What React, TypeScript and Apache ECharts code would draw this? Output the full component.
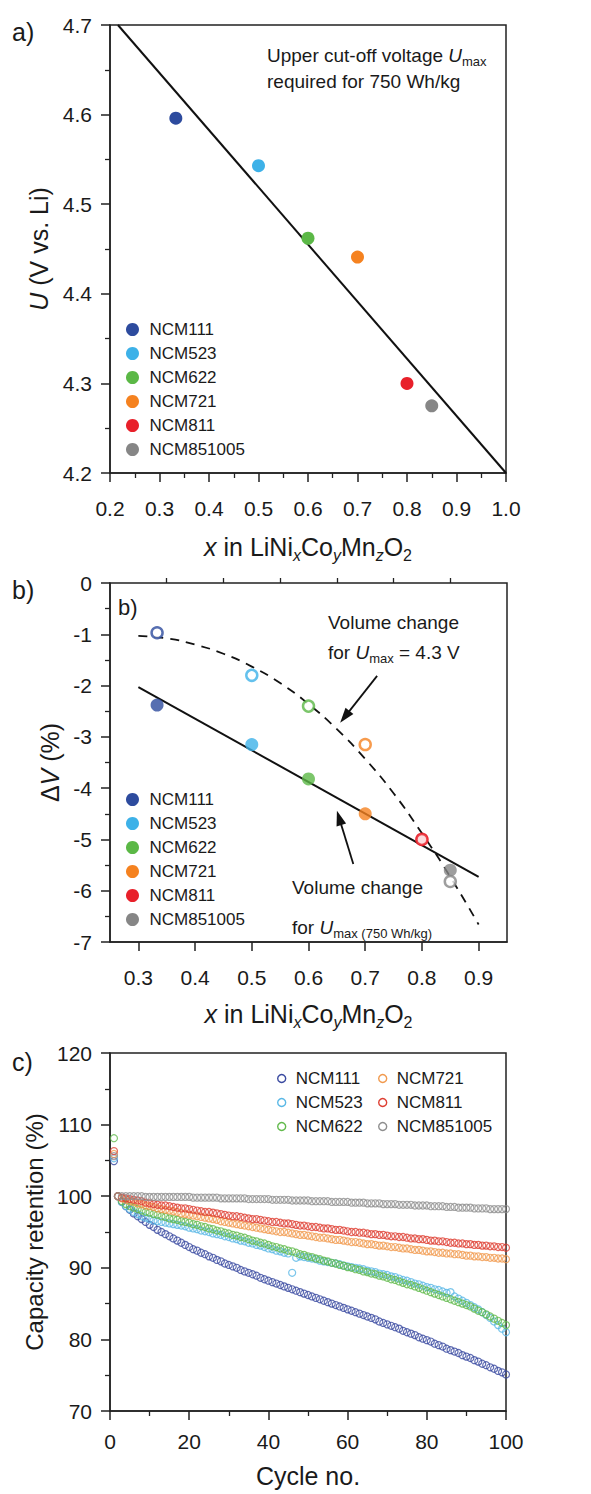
import React, { useEffect, useRef } from 'react';
import * as echarts from 'echarts';

const FONT = '"Liberation Sans", Arial, Helvetica, sans-serif';
const INK = '#1a1a1a';

// ---------- shared ----------
const NAMES = ['NCM111', 'NCM523', 'NCM622', 'NCM721', 'NCM811', 'NCM851005'];
const COLORS = ['#2D4B9E', '#3DB1E8', '#5BB846', '#F58220', '#E8202A', '#868686'];
const C_COLORS = ['#3A4AA0', '#5AB8E6', '#62BA4C', '#F19A4E', '#DE3E32', '#8E8E8E'];

// ---------- panel a ----------
const A_X = [0.333, 0.5, 0.6, 0.7, 0.8, 0.85];
const A_U = [4.596, 4.543, 4.462, 4.441, 4.3, 4.275];
const A_FIT_X = [0.216, 1.0];
const A_FIT_U = [4.7, 4.2];
const A_X_TICKS = [0.2, 0.3, 0.4, 0.5, 0.6, 0.7, 0.8, 0.9, 1.0];
const A_Y_TICKS = [4.2, 4.3, 4.4, 4.5, 4.6, 4.7];

// ---------- panel b ----------
const B_X = [0.333, 0.5, 0.6, 0.7, 0.8, 0.85];
const B_DV_750 = [-2.38, -3.15, -3.82, -4.5, -5.0, -5.6];
const B_DV_43 = [-0.97, -1.8, -2.4, -3.15, -5.0, -5.82];
const B_FIT_X = [0.3, 0.9];
const B_FIT_DV = [-2.03, -5.73];
const B_CURVE_X = [0.3, 0.35, 0.4, 0.45, 0.5, 0.55, 0.6, 0.65, 0.7, 0.75, 0.8, 0.85, 0.9];
const B_CURVE_DV = [-1.03, -1.08, -1.2, -1.38, -1.63, -1.95, -2.36, -2.85, -3.43, -4.1, -4.88, -5.73, -6.66];
const B_X_MAJOR = [0.3, 0.4, 0.5, 0.6, 0.7, 0.8, 0.9];
const B_X_MINOR = [0.35, 0.45, 0.55, 0.65, 0.75, 0.85];
const B_ARROW_43 = [[0.721, -1.81], [0.664, -2.61]];
const B_ARROW_750 = [[0.679, -5.48], [0.654, -4.58]];

// ---------- panel c ----------
const CYCLES = [
  1, 2, 3, 4, 5, 6, 7, 8, 9, 10, 11, 12, 13, 14, 15, 16, 17, 18, 19, 20,
  21, 22, 23, 24, 25, 26, 27, 28, 29, 30, 31, 32, 33, 34, 35, 36, 37, 38, 39, 40,
  41, 42, 43, 44, 45, 46, 47, 48, 49, 50, 51, 52, 53, 54, 55, 56, 57, 58, 59, 60,
  61, 62, 63, 64, 65, 66, 67, 68, 69, 70, 71, 72, 73, 74, 75, 76, 77, 78, 79, 80,
  81, 82, 83, 84, 85, 86, 87, 88, 89, 90, 91, 92, 93, 94, 95, 96, 97, 98, 99, 100,
];
const C_NCM111 = [
  104.9, 100.0, 99.2, 98.6, 98.1, 97.6, 97.2, 96.8, 96.4, 96.0,
  95.7, 95.3, 95.0, 94.7, 94.4, 94.1, 93.8, 93.5, 93.2, 92.9,
  92.6, 92.4, 92.1, 91.9, 91.6, 91.4, 91.1, 90.9, 90.6, 90.4,
  90.2, 90.0, 89.7, 89.5, 89.3, 89.1, 88.9, 88.6, 88.4, 88.2,
  88.0, 87.8, 87.6, 87.4, 87.2, 87.0, 86.8, 86.6, 86.4, 86.2,
  86.0, 85.8, 85.6, 85.4, 85.2, 85.0, 84.8, 84.6, 84.4, 84.2,
  84.0, 83.8, 83.6, 83.4, 83.2, 83.0, 82.8, 82.5, 82.3, 82.1,
  81.9, 81.7, 81.5, 81.2, 81.0, 80.8, 80.6, 80.3, 80.1, 79.9,
  79.7, 79.4, 79.2, 79.0, 78.7, 78.5, 78.3, 78.1, 77.8, 77.6,
  77.4, 77.1, 76.9, 76.6, 76.4, 76.1, 75.9, 75.6, 75.4, 75.1,
];
const C_NCM523 = [
  105.3, 100.0, 99.2, 98.6, 98.2, 97.8, 97.5, 97.2, 97.0, 96.8,
  96.6, 96.5, 96.4, 96.3, 96.2, 96.1, 96.0, 95.9, 95.8, 95.6,
  95.5, 95.4, 95.2, 95.1, 95.0, 94.8, 94.7, 94.6, 94.4, 94.3,
  94.1, 94.0, 93.8, 93.7, 93.5, 93.4, 93.2, 93.1, 92.9, 92.7,
  92.6, 92.4, 92.3, 92.1, 92.0, 89.3, 91.4, 91.6, 91.5, 91.4,
  91.3, 91.2, 91.0, 90.9, 90.8, 90.7, 90.6, 90.5, 90.3, 90.2,
  90.1, 90.0, 89.9, 89.8, 89.6, 89.5, 89.4, 89.2, 89.1, 89.0,
  88.8, 88.7, 88.5, 88.3, 88.2, 88.0, 87.8, 87.7, 87.5, 87.3,
  87.2, 87.0, 86.9, 86.7, 86.5, 86.6, 86.0, 85.7, 85.4, 85.1,
  84.8, 84.5, 84.2, 83.8, 83.4, 83.0, 82.5, 82.0, 81.5, 81.0,
];
const C_NCM622 = [
  108.1, 100.0, 99.3, 98.9, 98.6, 98.4, 98.2, 98.0, 97.8, 97.7,
  97.5, 97.4, 97.2, 97.1, 96.9, 96.8, 96.7, 96.5, 96.4, 96.3,
  96.1, 96.0, 95.8, 95.7, 95.5, 95.4, 95.2, 95.1, 94.9, 94.8,
  94.6, 94.5, 94.3, 94.2, 94.0, 93.8, 93.7, 93.5, 93.4, 93.2,
  93.0, 92.9, 92.7, 92.6, 92.4, 92.3, 92.1, 91.9, 91.8, 91.6,
  91.5, 91.3, 91.2, 91.0, 90.9, 90.7, 90.6, 90.4, 90.3, 90.1,
  90.0, 89.8, 89.7, 89.5, 89.4, 89.2, 89.1, 88.9, 88.8, 88.6,
  88.4, 88.3, 88.1, 87.9, 87.7, 87.6, 87.4, 87.2, 87.0, 86.8,
  86.6, 86.4, 86.2, 86.0, 85.8, 85.6, 85.4, 85.2, 85.0, 84.8,
  84.6, 84.3, 84.0, 83.8, 83.5, 83.2, 82.9, 82.6, 82.3, 82.0,
];
const C_NCM721 = [
  105.9, 100.0, 99.7, 99.5, 99.3, 99.2, 99.0, 98.9, 98.7, 98.6,
  98.5, 98.3, 98.2, 98.1, 98.0, 97.9, 97.8, 97.6, 97.5, 97.4,
  97.3, 97.2, 97.1, 97.0, 96.9, 96.8, 96.7, 96.5, 96.4, 96.3,
  96.2, 96.1, 96.0, 95.9, 95.8, 95.7, 95.6, 95.5, 95.4, 95.3,
  95.2, 95.1, 95.0, 95.0, 94.9, 94.8, 94.7, 94.6, 94.6, 94.5,
  94.4, 94.3, 94.2, 94.2, 94.1, 94.0, 93.9, 93.9, 93.8, 93.7,
  93.6, 93.6, 93.5, 93.4, 93.3, 93.3, 93.2, 93.1, 93.1, 93.0,
  92.9, 92.9, 92.8, 92.7, 92.7, 92.6, 92.5, 92.5, 92.4, 92.3,
  92.3, 92.2, 92.1, 92.1, 92.0, 92.0, 91.9, 91.9, 91.8, 91.7,
  91.7, 91.6, 91.6, 91.5, 91.5, 91.4, 91.4, 91.3, 91.3, 91.2,
];
const C_NCM811 = [
  106.3, 100.0, 99.8, 99.7, 99.6, 99.5, 99.4, 99.3, 99.1, 99.0,
  98.9, 98.8, 98.7, 98.7, 98.6, 98.5, 98.4, 98.3, 98.3, 98.2,
  98.1, 98.0, 97.9, 97.8, 97.8, 97.7, 97.6, 97.5, 97.4, 97.3,
  97.2, 97.2, 97.1, 97.0, 96.9, 96.8, 96.8, 96.7, 96.6, 96.5,
  96.4, 96.4, 96.3, 96.2, 96.2, 96.1, 96.0, 95.9, 95.9, 95.8,
  95.7, 95.7, 95.6, 95.5, 95.5, 95.4, 95.3, 95.3, 95.2, 95.1,
  95.0, 95.0, 94.9, 94.9, 94.8, 94.7, 94.7, 94.6, 94.6, 94.5,
  94.4, 94.4, 94.3, 94.3, 94.2, 94.1, 94.1, 94.0, 94.0, 93.9,
  93.8, 93.8, 93.7, 93.7, 93.6, 93.5, 93.5, 93.4, 93.4, 93.3,
  93.3, 93.2, 93.2, 93.1, 93.1, 93.0, 93.0, 92.9, 92.9, 92.8,
];
const C_NCM851005 = [
  105.6, 100.0, 100.0, 100.0, 100.0, 100.0, 100.0, 100.0, 99.9, 99.9,
  99.9, 99.9, 99.9, 99.9, 99.9, 99.9, 99.9, 99.9, 99.9, 99.9,
  99.8, 99.8, 99.8, 99.8, 99.8, 99.8, 99.8, 99.7, 99.7, 99.7,
  99.7, 99.7, 99.7, 99.7, 99.6, 99.6, 99.6, 99.6, 99.6, 99.6,
  99.5, 99.5, 99.5, 99.5, 99.5, 99.4, 99.4, 99.4, 99.4, 99.4,
  99.3, 99.3, 99.3, 99.3, 99.3, 99.2, 99.2, 99.2, 99.2, 99.2,
  99.1, 99.1, 99.1, 99.1, 99.0, 99.0, 99.0, 99.0, 98.9, 98.9,
  98.9, 98.9, 98.8, 98.8, 98.8, 98.8, 98.7, 98.7, 98.7, 98.7,
  98.6, 98.6, 98.6, 98.6, 98.5, 98.5, 98.5, 98.4, 98.4, 98.4,
  98.4, 98.3, 98.3, 98.3, 98.3, 98.2, 98.2, 98.2, 98.2, 98.2,
];
const C_SERIES = [C_NCM111, C_NCM523, C_NCM622, C_NCM721, C_NCM811, C_NCM851005];
const C_X_TICKS = [0, 20, 40, 60, 80, 100];
const C_Y_TICKS = [70, 80, 90, 100, 110, 120];

// ---------- helpers ----------
const LINE = { color: '#222', width: 1.5 };
const TICK_FS = 21;

function valueAxis(gridIndex: number, extra: any) {
  return {
    type: 'value',
    gridIndex,
    axisLine: { show: true, onZero: false, lineStyle: LINE },
    axisTick: { show: true, inside: false, length: 9, lineStyle: LINE },
    minorTick: { show: true, splitNumber: 2, length: 5, lineStyle: { color: '#222', width: 1.3 } },
    splitLine: { show: false },
    minorSplitLine: { show: false },
    axisLabel: { color: INK, fontSize: TICK_FS, fontFamily: FONT, margin: 18 },
    nameTextStyle: { color: INK, fontSize: 25, fontFamily: FONT },
    ...extra,
  };
}

const richSub = (size: number, pad: number, italic: boolean) => ({
  fontSize: size,
  fontFamily: FONT,
  fontStyle: italic ? 'italic' : 'normal',
  padding: [pad, 0, 0, 0],
  color: INK,
});

const xNameRich = {
  i: { fontSize: 25, fontFamily: FONT, fontStyle: 'italic', color: INK },
  s: richSub(16, 16, true),
  n: richSub(16, 16, false),
};
const X_NAME = '{i|x} in LiNi{s|x}Co{s|y}Mn{s|z}O{n|2}';

function gText(x: number, y: number, text: string, size: number, rich?: any) {
  return {
    type: 'text',
    x,
    y,
    silent: true,
    style: {
      text,
      fill: INK,
      fontSize: size,
      fontFamily: FONT,
      textVerticalAlign: 'middle',
      textAlign: 'left',
      rich,
    },
  };
}

const annRich = {
  i: { fontSize: 19, fontFamily: FONT, fontStyle: 'italic', fill: INK },
  s: { fontSize: 13, fontFamily: FONT, fill: INK, padding: [12, 0, 0, 0] },
};

function buildOption() {
  const series: any[] = [];

  // ----- panel a -----
  series.push({
    type: 'line',
    xAxisIndex: 0,
    yAxisIndex: 0,
    data: A_FIT_X.map((x, i) => [x, A_FIT_U[i]]),
    symbol: 'none',
    lineStyle: { color: '#111', width: 2 },
    z: 2,
  });
  NAMES.forEach((n, i) => {
    series.push({
      type: 'scatter',
      name: n,
      xAxisIndex: 0,
      yAxisIndex: 0,
      data: [[A_X[i], A_U[i]]],
      symbol: 'circle',
      symbolSize: 13,
      itemStyle: { color: COLORS[i], opacity: 1 },
      z: 3,
    });
  });

  // ----- panel b -----
  series.push({
    type: 'line',
    xAxisIndex: 1,
    yAxisIndex: 1,
    data: B_FIT_X.map((x, i) => [x, B_FIT_DV[i]]),
    symbol: 'none',
    lineStyle: { color: '#111', width: 2 },
    z: 2,
    markLine: {
      silent: true,
      symbol: ['none', 'triangle'],
      symbolSize: [10, 15],
      label: { show: false },
      lineStyle: { color: '#111', width: 1.8, type: 'solid' },
      data: [
        [{ coord: B_ARROW_43[0] }, { coord: B_ARROW_43[1] }],
        [{ coord: B_ARROW_750[0] }, { coord: B_ARROW_750[1] }],
      ],
    },
  });
  series.push({
    type: 'line',
    xAxisIndex: 1,
    yAxisIndex: 1,
    data: B_CURVE_X.map((x, i) => [x, B_CURVE_DV[i]]),
    symbol: 'none',
    smooth: true,
    lineStyle: { color: '#111', width: 1.8, type: [9, 7] },
    z: 2,
  });
  NAMES.forEach((n, i) => {
    series.push({
      type: 'scatter',
      name: n,
      xAxisIndex: 1,
      yAxisIndex: 1,
      data: [[B_X[i], B_DV_750[i]]],
      symbol: 'circle',
      symbolSize: 13,
      itemStyle: { color: COLORS[i] },
      z: 3,
    });
  });
  NAMES.forEach((n, i) => {
    series.push({
      type: 'scatter',
      name: n,
      xAxisIndex: 1,
      yAxisIndex: 1,
      data: [[B_X[i], B_DV_43[i]]],
      symbol: 'circle',
      symbolSize: 11,
      itemStyle: { color: '#fff', borderColor: COLORS[i], borderWidth: 2.5 },
      z: 4,
    });
  });

  // ----- panel c -----
  NAMES.forEach((n, i) => {
    series.push({
      type: 'scatter',
      name: n,
      xAxisIndex: 3,
      yAxisIndex: 2,
      data: CYCLES.map((c, k) => [c, C_SERIES[i][k]]),
      symbol: 'circle',
      symbolSize: 7,
      itemStyle: { color: 'rgba(255,255,255,0)', borderColor: C_COLORS[i], borderWidth: 1.2 },
      z: 3,
    });
  });

  const oneDec = (v: number) => v.toFixed(1);

  const filledLegend = (top: number) => ({
    orient: 'vertical',
    left: 121,
    top,
    itemWidth: 24,
    itemHeight: 13,
    itemGap: 5,
    icon: 'circle',
    selectedMode: false,
    textStyle: { fontSize: 17, fontFamily: FONT, color: INK, lineHeight: 19 },
    data: NAMES.map((n, i) => ({ name: n, itemStyle: { color: COLORS[i], borderWidth: 0 } })),
  });
  const openLegend = (left: number, idx: number[]) => ({
    orient: 'vertical',
    left,
    top: 1064,
    itemWidth: 18,
    itemHeight: 8,
    itemGap: 5,
    icon: 'circle',
    selectedMode: false,
    textStyle: { fontSize: 17, fontFamily: FONT, color: INK, lineHeight: 19 },
    data: idx.map((i) => ({
      name: NAMES[i],
      itemStyle: { color: 'rgba(255,255,255,0)', borderColor: C_COLORS[i], borderWidth: 1.4 },
    })),
  });

  return {
    animation: false,
    backgroundColor: '#fff',
    textStyle: { fontFamily: FONT },
    grid: [
      { left: 110, top: 25, width: 396, height: 448, show: true, borderColor: '#222', borderWidth: 1.5 },
      { left: 110, top: 583, width: 397, height: 359, show: true, borderColor: '#222', borderWidth: 1.5 },
      { left: 110, top: 1053, width: 396, height: 358, show: true, borderColor: '#222', borderWidth: 1.5 },
    ],
    xAxis: [
      valueAxis(0, {
        min: A_X_TICKS[0],
        max: A_X_TICKS[A_X_TICKS.length - 1],
        interval: 0.1,
        axisLabel: { color: INK, fontSize: TICK_FS, fontFamily: FONT, margin: 25, formatter: oneDec },
        name: X_NAME,
        nameLocation: 'middle',
        nameGap: 58,
        nameTextStyle: { color: INK, fontSize: 25, fontFamily: FONT, rich: xNameRich },
      }),
      valueAxis(1, {
        min: 0.25,
        max: 0.95,
        interval: 0.05,
        minorTick: { show: false },
        axisTick: { show: true, length: 9, lineStyle: LINE, customValues: B_X_MAJOR },
        axisLabel: {
          color: INK,
          fontSize: TICK_FS,
          fontFamily: FONT,
          margin: 25,
          customValues: B_X_MAJOR,
          formatter: (v: number) => (Math.abs(v * 10 - Math.round(v * 10)) < 1e-6 ? v.toFixed(1) : ''),
        },
        name: X_NAME,
        nameLocation: 'middle',
        nameGap: 56,
        nameTextStyle: { color: INK, fontSize: 25, fontFamily: FONT, rich: xNameRich },
      }),
      valueAxis(1, {
        min: 0.25,
        max: 0.95,
        interval: 0.05,
        axisLine: { show: false },
        axisLabel: { show: false },
        minorTick: { show: false },
        axisTick: { show: true, length: 5, lineStyle: { color: '#222', width: 1.3 }, customValues: B_X_MINOR },
      }),
      valueAxis(2, {
        min: C_X_TICKS[0],
        max: C_X_TICKS[C_X_TICKS.length - 1],
        interval: 20,
        axisLabel: { color: INK, fontSize: TICK_FS, fontFamily: FONT, margin: 20 },
        name: 'Cycle no.',
        nameLocation: 'middle',
        nameGap: 52,
        nameTextStyle: { color: INK, fontSize: 25, fontFamily: FONT },
      }),
    ],
    yAxis: [
      valueAxis(0, {
        min: A_Y_TICKS[0],
        max: A_Y_TICKS[A_Y_TICKS.length - 1],
        interval: 0.1,
        axisLabel: { color: INK, fontSize: TICK_FS, fontFamily: FONT, margin: 18, formatter: oneDec },
        name: '{i|U} (V vs. Li)',
        nameLocation: 'middle',
        nameGap: 58,
        nameRotate: 90,
        nameTextStyle: {
          color: INK,
          fontSize: 25,
          fontFamily: FONT,
          rich: { i: { fontSize: 25, fontFamily: FONT, fontStyle: 'italic', color: INK } },
        },
      }),
      valueAxis(1, {
        min: -7,
        max: 0,
        interval: 1,
        axisLabel: { color: INK, fontSize: TICK_FS, fontFamily: FONT, margin: 18, formatter: (v: number) => String(v) },
        name: 'Δ{i|V} (%)',
        nameLocation: 'middle',
        nameGap: 45,
        nameRotate: 90,
        nameTextStyle: {
          color: INK,
          fontSize: 25,
          fontFamily: FONT,
          rich: { i: { fontSize: 25, fontFamily: FONT, fontStyle: 'italic', color: INK } },
        },
      }),
      valueAxis(2, {
        min: C_Y_TICKS[0],
        max: C_Y_TICKS[C_Y_TICKS.length - 1],
        interval: 10,
        axisLabel: { color: INK, fontSize: TICK_FS, fontFamily: FONT, margin: 18 },
        name: 'Capacity retention (%)',
        nameLocation: 'middle',
        nameGap: 58,
        nameRotate: 90,
        nameTextStyle: { color: INK, fontSize: 24, fontFamily: FONT },
      }),
    ],
    legend: [
      filledLegend(315),
      filledLegend(785),
      openLegend(272, [0, 1, 2]),
      openLegend(373, [3, 4, 5]),
    ],
    graphic: [
      gText(12, 32, 'a)', 25),
      gText(12, 590, 'b)', 25),
      gText(12, 1062, 'c)', 25),
      gText(118, 607, 'b)', 22),
      gText(267, 55, 'Upper cut-off voltage {i|U}{s|max}', 19, annRich),
      gText(267, 81, 'required for 750 Wh/kg', 19),
      gText(328, 622, 'Volume change', 19),
      gText(328, 652, 'for {i|U}{s|max} = 4.3 V', 19, annRich),
      gText(292, 887, 'Volume change', 19),
      gText(292, 927, 'for {i|U}{s|max (750 Wh/kg)}', 19, annRich),
    ],
    series,
  };
}

export default function App() {
  const ref = useRef<HTMLDivElement>(null);
  useEffect(() => {
    if (!ref.current) return;
    const chart = echarts.init(ref.current, undefined, { renderer: 'svg' });
    chart.setOption(buildOption() as any);
    return () => chart.dispose();
  }, []);
  return (
    <div
      ref={ref}
      style={{ position: 'absolute', left: 0, top: 0, width: 591, height: 1494, background: '#fff' }}
    />
  );
}
